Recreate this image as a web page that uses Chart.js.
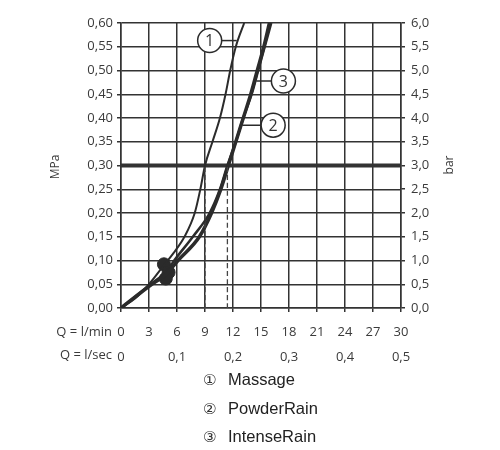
<!DOCTYPE html>
<html>
<head>
<meta charset="utf-8">
<script src="https://cdn.jsdelivr.net/npm/chart.js@4"></script>
<style>
body{margin:0;background:#fff;}
#wrap{position:relative;width:500px;height:450px;}
#legend{position:absolute;left:203px;top:365px;font:16.5px "Liberation Sans",Arial,sans-serif;color:#222;}
#legend div{height:28.5px;line-height:28.5px;white-space:nowrap;}
#legend span{display:inline-block;width:25px;font:15px "DejaVu Sans",sans-serif;color:#333;}
</style>
</head>
<body>
<div id="wrap">
<canvas id="c" width="500" height="450"></canvas>
<div id="legend"></div>
</div>
<script>
// flow rate Q (l/min) vs pressure P (MPa)
const seriesNames = ['Massage', 'PowderRain', 'IntenseRain'];
const seriesMarks = ['①', '②', '③'];

const massageQ = [0, 1.5, 3.0, 4.6, 5.6, 6.8, 7.9, 8.5, 9.0, 9.8, 10.6, 11.2, 11.7, 12.3, 13.2];
const massageP = [0, 0.02, 0.05, 0.09, 0.115, 0.15, 0.20, 0.25, 0.30, 0.35, 0.40, 0.45, 0.50, 0.55, 0.60];

const powderQ = [0, 3.3, 4.8, 6.1, 8.4, 9.7, 10.7, 11.5, 12.3, 13.1, 13.9, 14.6, 15.3, 15.9];
const powderP = [0, 0.05, 0.07, 0.10, 0.15, 0.20, 0.25, 0.30, 0.35, 0.40, 0.45, 0.50, 0.55, 0.60];

const intenseQ = [0, 3.2, 5.0, 5.7, 7.7, 9.5, 10.6, 11.4, 12.3, 13.1, 14.0, 14.7, 15.4, 16.1];
const intenseP = [0, 0.05, 0.08, 0.10, 0.15, 0.20, 0.25, 0.30, 0.35, 0.40, 0.45, 0.50, 0.55, 0.60];

// dots near the start of the curves
const markerQ = [4.6, 5.1, 4.8];
const markerP = [0.092, 0.075, 0.062];

const refP = 0.30;
const guideQ = [9.0, 11.4];

// callout circles: centre and end of leader line, in data units
const calloutQ = [9.5, 16.3, 17.4];
const calloutP = [0.563, 0.385, 0.478];
const leaderEndQ = [12.4, 13.0, 14.5];

const ink = '#2b2b2b';
const tickFont = {family: '"Open Sans", sans-serif', size: 13};

function pts(xs, ys) {
    return xs.map((x, i) => ({x: x, y: ys[i]}));
}
function comma(v, d) {
    return v.toFixed(d).replace('.', ',');
}

document.getElementById('legend').innerHTML = seriesNames
    .map((n, i) => '<div><span>' + seriesMarks[i] + '</span>' + n + '</div>').join('');

const extras = {
    id: 'extras',
    afterDraw(chart) {
        const c = chart.ctx, xs = chart.scales.x, ys = chart.scales.y;
        c.save();
        c.fillStyle = '#3a3a3a';
        c.font = '13px "Open Sans", sans-serif';
        c.textAlign = 'right';
        c.textBaseline = 'middle';
        c.fillText('Q = l/min', 112, 332);
        c.fillText('Q = l/sec', 112, 355);

        c.textAlign = 'center';
        c.font = '12px "Open Sans", sans-serif';
        c.translate(56, 167);
        c.rotate(-Math.PI / 2);
        c.fillText('MPa', 0, 0);
        c.restore();

        c.save();
        c.fillStyle = '#3a3a3a';
        c.font = '12px "Open Sans", sans-serif';
        c.textAlign = 'center';
        c.textBaseline = 'middle';
        c.translate(450, 165);
        c.rotate(-Math.PI / 2);
        c.fillText('bar', 0, 0);
        c.restore();

        // numbered callouts
        c.save();
        c.strokeStyle = ink;
        c.lineWidth = 1.5;
        calloutQ.forEach((q, i) => {
            const cx = xs.getPixelForValue(q), cy = ys.getPixelForValue(calloutP[i]);
            const r = 12;
            c.beginPath();
            c.moveTo(cx + r, cy);
            c.lineTo(xs.getPixelForValue(leaderEndQ[i]), cy);
            c.stroke();
            c.beginPath();
            c.arc(cx, cy, r, 0, Math.PI * 2);
            c.fillStyle = '#fff';
            c.fill();
            c.stroke();
            c.fillStyle = '#333';
            c.font = '16px "Open Sans", sans-serif';
            c.textAlign = 'center';
            c.textBaseline = 'middle';
            c.fillText(String(i + 1), cx, cy + 1);
        });
        c.restore();
    }
};

const lineBase = {type: 'line', showLine: true, pointRadius: 0, fill: false, borderColor: ink, cubicInterpolationMode: 'monotone'};

new Chart(document.getElementById('c'), {
    type: 'scatter',
    data: {
        datasets: [
            Object.assign({}, lineBase, {label: 'g1', data: [{x: guideQ[0], y: 0}, {x: guideQ[0], y: refP}], borderWidth: 1.3, borderDash: [5, 3], borderColor: '#444'}),
            Object.assign({}, lineBase, {label: 'g2', data: [{x: guideQ[1], y: 0}, {x: guideQ[1], y: refP}], borderWidth: 1.3, borderDash: [5, 3], borderColor: '#444'}),
            Object.assign({}, lineBase, {label: seriesNames[0], data: pts(massageQ, massageP), borderWidth: 2}),
            Object.assign({}, lineBase, {label: seriesNames[1], data: pts(powderQ, powderP), borderWidth: 3.5}),
            Object.assign({}, lineBase, {label: seriesNames[2], data: pts(intenseQ, intenseP), borderWidth: 2.5}),
            Object.assign({}, lineBase, {label: 'ref', data: [{x: 0, y: refP}, {x: 30, y: refP}], borderWidth: 4, borderColor: '#333'}),
            {label: 'min', data: pts(markerQ, markerP), pointRadius: 6.5, backgroundColor: ink, borderColor: ink, showLine: false}
        ]
    },
    options: {
        responsive: false,
        animation: false,
        layout: {padding: {top: 23, bottom: 79, left: 0, right: 0}},
        plugins: {legend: {display: false}, tooltip: {enabled: false}},
        scales: {
            x: {
                type: 'linear', position: 'bottom', min: 0, max: 30,
                ticks: {stepSize: 3, font: tickFont, color: '#3a3a3a', padding: 12, maxRotation: 0},
                grid: {color: '#333', lineWidth: 1.5, tickLength: 4},
                border: {color: '#333', width: 1.5},
                afterFit: s => { s.height = 33; }
            },
            x2: {
                type: 'linear', position: 'bottom', min: 0, max: 0.5,
                ticks: {stepSize: 0.1, font: tickFont, color: '#3a3a3a', padding: 0, maxRotation: 0,
                    callback: v => v === 0 ? '0' : comma(v, 1)},
                grid: {display: false},
                border: {display: false},
                afterFit: s => { s.height = 30; }
            },
            y: {
                min: 0, max: 0.6,
                ticks: {stepSize: 0.05, font: tickFont, color: '#3a3a3a', padding: 4, callback: v => comma(v, 2)},
                grid: {color: '#333', lineWidth: 1.5, tickLength: 4},
                border: {color: '#333', width: 1.5},
                afterFit: s => { s.width = 121; }
            },
            y2: {
                position: 'right', min: 0, max: 6,
                ticks: {stepSize: 0.5, font: tickFont, color: '#3a3a3a', padding: 6, callback: v => comma(v, 1)},
                grid: {drawOnChartArea: false, color: '#333', lineWidth: 1.5, tickLength: 4},
                border: {color: '#333', width: 1.5},
                afterFit: s => { s.width = 99; }
            }
        }
    },
    plugins: [extras]
});
</script>
</body>
</html>
